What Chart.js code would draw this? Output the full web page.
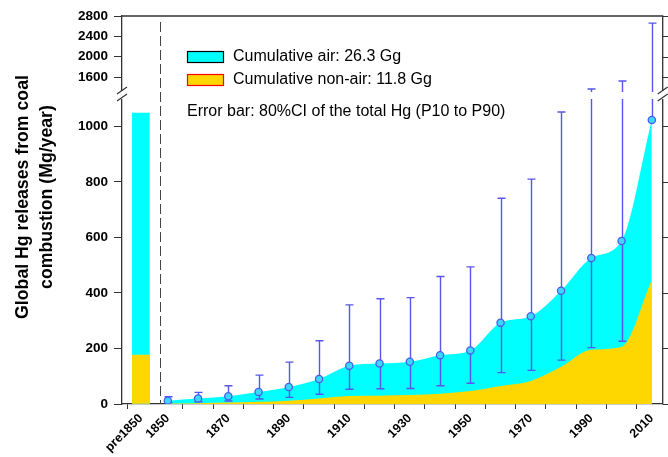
<!DOCTYPE html>
<html>
<head>
<meta charset="utf-8">
<script src="https://cdn.jsdelivr.net/npm/chart.js@4.4.0/dist/chart.umd.min.js"></script>
<style>
  html, body { margin: 0; padding: 0; background: #fff; }
  #wrap { width: 668px; height: 457px; }
</style>
</head>
<body>
<div id="wrap"><canvas id="hgChart" width="668" height="457"></canvas></div>
<script>
// Data (Mg/year)
const years    = [1850, 1860, 1870, 1880, 1890, 1900, 1910, 1920, 1930, 1940, 1950, 1960, 1970, 1980, 1990, 2000, 2010];
const totalHg  = [12, 20, 28, 43, 61, 90, 138, 146, 152, 176, 193, 293, 316, 408, 526, 587, 1023];
const nonAirHg = [2, 3, 5, 8, 12, 20, 29, 30, 32, 37, 47, 65, 83, 134, 195, 206, 447];
const ciLow    = [5, 8, 11, 18, 24, 35, 53, 55, 56, 66, 75, 113, 121, 158, 203, 226, null];
const ciHigh   = [26, 42, 66, 104, 151, 228, 357, 379, 383, 459, 494, 741, 810, 1052, 1364, 1520, 2660];
const pre1850Total  = [1048];
const pre1850NonAir = [176];

const lowerTicks = [0, 200, 400, 600, 800, 1000];
const upperTicks = [1600, 2000, 2400, 2800];
const tickYears  = [1850, 1860, 1870, 1880, 1890, 1900, 1910, 1920, 1930, 1940, 1950, 1960, 1970, 1980, 1990, 2000, 2010];
const labelYears = [1850, 1870, 1890, 1910, 1930, 1950, 1970, 1990, 2010];

const legendLabels = ['Cumulative air: 26.3 Gg', 'Cumulative non-air: 11.8 Gg'];
const noteText = 'Error bar: 80%CI of the total Hg (P10 to P90)';
const yTitle = ['Global Hg releases from coal', 'combustion (Mg/year)'];

// axis layout
const X_MIN = 1834.86, X_MAX = 2013.6;
const PRE_POS = 1841.1;       // slot of the pre-1850 bar
const DIVIDER_POS = 1847.37;  // dashed separator
const LOWER_MAX = 1113, UPPER_MIN = 1246, UPPER_MAX = 2800;

const CYAN = '#00FFFF';
const GOLD = '#FFD700';
const ERR = '#5656EE';
const AXIS = '#333333';

function pts(xs, ys) {
    return xs.map((x, i) => ({ x: x, y: ys[i] }));
}

function valuePixel(chart, v) {
    return v > LOWER_MAX ? chart.scales.yTop.getPixelForValue(v) : chart.scales.y.getPixelForValue(v);
}

function drawErrorBars(chart) {
    const ctx = chart.ctx;
    const xs = chart.scales.x;
    const brk = chart.scales.y.top;
    ctx.save();
    ctx.strokeStyle = ERR;
    ctx.lineWidth = 1.4;
    years.forEach((yr, i) => {
        const px = Math.round(xs.getPixelForValue(yr)) + 0.5;
        const lo = ciLow[i] === null ? totalHg[i] : ciLow[i];
        const pLo = valuePixel(chart, lo);
        const pHi = valuePixel(chart, ciHigh[i]);
        ctx.beginPath();
        if (pHi < brk - 3) {
            ctx.moveTo(px, pLo); ctx.lineTo(px, brk + 4);
            ctx.moveTo(px, brk - 3); ctx.lineTo(px, pHi);
        } else {
            ctx.moveTo(px, pLo); ctx.lineTo(px, pHi);
        }
        ctx.moveTo(px - 4, pHi); ctx.lineTo(px + 4, pHi);
        if (ciLow[i] !== null) {
            ctx.moveTo(px - 4, pLo); ctx.lineTo(px + 4, pLo);
        }
        ctx.stroke();
    });
    ctx.restore();
}

function drawBreak(ctx, x, y) {
    ctx.fillStyle = '#fff';
    ctx.fillRect(x - 4, y - 4, 8, 8);
    ctx.beginPath();
    ctx.moveTo(x - 5, y - 1); ctx.lineTo(x + 5, y - 8);
    ctx.moveTo(x - 5, y + 6); ctx.lineTo(x + 5, y - 1);
    ctx.stroke();
}

function drawFrame(chart) {
    const ctx = chart.ctx;
    const area = chart.chartArea;
    const brk = chart.scales.y.top;
    ctx.save();
    ctx.strokeStyle = AXIS;
    ctx.lineWidth = 1.3;
    ctx.beginPath();
    ctx.moveTo(area.left, area.top); ctx.lineTo(area.right, area.top);
    ctx.lineTo(area.right, area.bottom);
    ctx.stroke();
    // right-hand tick marks
    ctx.lineWidth = 1;
    ctx.beginPath();
    lowerTicks.concat(upperTicks).forEach(v => {
        const py = Math.round(valuePixel(chart, v)) + 0.5;
        ctx.moveTo(area.right, py); ctx.lineTo(area.right + 6, py);
    });
    ctx.stroke();
    ctx.lineWidth = 1.2;
    drawBreak(ctx, area.left, brk);
    drawBreak(ctx, area.right, brk);
    // dashed separator between pre-1850 and the time series
    const dx = Math.round(chart.scales.x.getPixelForValue(DIVIDER_POS)) + 0.5;
    ctx.strokeStyle = '#444';
    ctx.lineWidth = 1;
    ctx.setLineDash([10, 4]);
    ctx.beginPath();
    ctx.moveTo(dx, area.top + 6); ctx.lineTo(dx, area.bottom);
    ctx.stroke();
    ctx.restore();
}

function drawLegend(chart) {
    const ctx = chart.ctx;
    ctx.save();
    const boxes = [[CYAN, '#000'], [GOLD, '#FF0000']];
    ctx.font = '16px Arial, "Liberation Sans", sans-serif';
    ctx.textBaseline = 'middle';
    ctx.fillStyle = '#000';
    legendLabels.forEach((txt, i) => {
        const top = 51 + i * 23;
        ctx.fillStyle = boxes[i][0];
        ctx.fillRect(187, top, 36, 11);
        ctx.strokeStyle = boxes[i][1];
        ctx.lineWidth = 1.2;
        ctx.strokeRect(187.5, top + 0.5, 36, 11);
        ctx.fillStyle = '#000';
        ctx.fillText(txt, 233, top + 6);
    });
    ctx.fillText(noteText, 187, 112);
    ctx.restore();
}

function drawTitle(chart) {
    const ctx = chart.ctx;
    ctx.save();
    ctx.font = 'bold 17.7px Arial, "Liberation Sans", sans-serif';
    ctx.fillStyle = '#000';
    ctx.textAlign = 'center';
    ctx.textBaseline = 'middle';
    const xs = [23, 47];
    yTitle.forEach((line, i) => {
        ctx.save();
        ctx.translate(xs[i], 197);
        ctx.rotate(-Math.PI / 2);
        ctx.fillText(line, 0, 0);
        ctx.restore();
    });
    ctx.restore();
}

const hgDecor = {
    id: 'hgDecor',
    beforeDatasetDraw(chart, args) {
        if (args.index === 4) drawErrorBars(chart);
    },
    afterDraw(chart) {
        drawFrame(chart);
        drawLegend(chart);
        drawTitle(chart);
    }
};

const tickFont = { family: 'Arial, "Liberation Sans", sans-serif', weight: 'bold', size: 13.5 };

function yAxis(min, max, tickList, weight) {
    return {
        type: 'linear',
        position: 'left',
        stack: 'hg',
        stackWeight: weight,
        min: min,
        max: max,
        afterBuildTicks: s => { s.ticks = tickList.map(v => ({ value: v })); },
        afterFit: s => { s.width = 122; s.paddingTop = 0; s.paddingBottom = 0; },
        ticks: { color: '#000', font: tickFont, padding: 6, autoSkip: false, callback: v => String(v) },
        grid: { drawOnChartArea: false, tickLength: 8, color: AXIS },
        border: { color: AXIS, width: 1.3 }
    };
}

const chart = new Chart(document.getElementById('hgChart'), {
    type: 'line',
    data: {
        datasets: [
            {
                type: 'bar', data: pts([PRE_POS], pre1850Total), backgroundColor: CYAN, yAxisID: 'y',
                borderWidth: 0, barThickness: 17, grouped: false, order: 6
            },
            {
                type: 'bar', data: pts([PRE_POS], pre1850NonAir), backgroundColor: GOLD, yAxisID: 'y',
                borderWidth: 0, barThickness: 17, grouped: false, order: 5
            },
            {
                data: pts(years, totalHg), fill: 'origin', backgroundColor: CYAN, borderWidth: 0, yAxisID: 'y',
                pointRadius: 0, cubicInterpolationMode: 'monotone', order: 4
            },
            {
                data: pts(years, nonAirHg), fill: 'origin', backgroundColor: GOLD, borderWidth: 0, yAxisID: 'y',
                pointRadius: 0, cubicInterpolationMode: 'monotone', order: 3
            },
            {
                data: pts(years, totalHg), showLine: false, pointRadius: 3.6, yAxisID: 'y',
                pointBackgroundColor: '#3AD8FF', pointBorderColor: '#4A5CF0', pointBorderWidth: 1.3, order: 1
            }
        ]
    },
    options: {
        responsive: false,
        animation: false,
        layout: { padding: { top: 16, right: 1, left: 0, bottom: 0 } },
        plugins: { legend: { display: false }, tooltip: { enabled: false } },
        scales: {
            x: {
                type: 'linear',
                min: X_MIN,
                max: X_MAX,
                offset: false,
                afterBuildTicks: s => { s.ticks = [PRE_POS].concat(tickYears).map(v => ({ value: v })); },
                afterFit: s => { s.height = 53; s.paddingLeft = 0; s.paddingRight = 0; },
                ticks: {
                    autoSkip: false, maxRotation: 45, minRotation: 45, padding: 2, color: '#000',
                    font: { family: 'Arial, "Liberation Sans", sans-serif', weight: 'bold', size: 12.5 },
                    callback: v => v === PRE_POS ? 'pre1850' : (labelYears.includes(v) ? String(v) : '')
                },
                grid: {
                    drawOnChartArea: false, tickLength: 5,
                    tickColor: c => (c.tick && c.tick.value === 1850) ? 'rgba(0,0,0,0)' : AXIS
                },
                border: { color: AXIS, width: 1.3 }
            },
            y: yAxis(0, LOWER_MAX, lowerTicks, 309),
            yTop: yAxis(UPPER_MIN, UPPER_MAX, upperTicks, 79)
        }
    },
    plugins: [hgDecor]
});
</script>
</body>
</html>
